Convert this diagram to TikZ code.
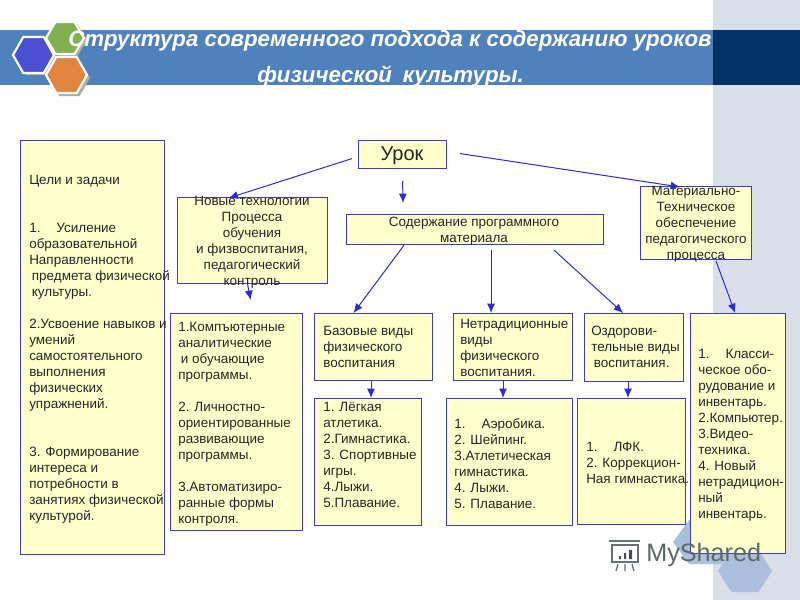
\documentclass[tikz,border=0pt]{standalone}
\usepackage{fontspec}
\setmainfont{Liberation Sans}
\usetikzlibrary{arrows.meta,calc}
\definecolor{bandblue}{HTML}{4F81BD}
\definecolor{banddark}{HTML}{003366}
\definecolor{sidepanel}{HTML}{D9DEE8}
\definecolor{boxfill}{HTML}{FFFFCC}
\definecolor{boxline}{HTML}{3B3BC8}
\definecolor{arrowc}{HTML}{2A2AE0}
\definecolor{hexpale}{HTML}{A9BFDC}
\definecolor{logoc}{HTML}{3F4F50}
\definecolor{hexblue}{HTML}{4A50D0}
\definecolor{hexgreen}{HTML}{7FB24F}
\definecolor{hexorange}{HTML}{E0843E}
\definecolor{hexshadow}{HTML}{A8B0A8}
\tikzset{
  x=0.75pt,y=-0.75pt,
  boxn/.style={draw=boxline,fill=boxfill,line width=0.85pt,inner sep=0pt,anchor=north west},
  txt/.style={inner sep=0pt,anchor=north west,align=left,font=\fontsize{10.1}{12}\selectfont,text=black!85},
  txtc/.style={txt,anchor=north,align=center},
  arr/.style={draw=arrowc,line width=0.75pt,-{Latex[length=7pt,width=6pt]}},
  hexa/.style={draw=white,line width=1.6pt},
  titlet/.style={inner sep=0pt,text=white,font=\fontsize{16.7}{18}\selectfont\bfseries\itshape}
}
\newcommand{\hexpath}[4]{(#1,#3) -- ({#1+0.25*(#2-#1)},#4) -- ({#1+0.75*(#2-#1)},#4) -- (#2,#3) -- ({#1+0.75*(#2-#1)},{2*#3-#4}) -- ({#1+0.25*(#2-#1)},{2*#3-#4}) -- cycle}
\newcommand{\bxn}[5]{\node[boxn,minimum width={(#4-#2)*0.75pt},minimum height={(#5-#3)*0.75pt}] (#1) at (#2,#3) {};}
\begin{document}
\begin{tikzpicture}
\useasboundingbox (0,0) rectangle (800,600);
\fill[white] (0,0) rectangle (800,600);
% side panel and band
\fill[sidepanel] (713,0) rectangle (800,600);
\fill[bandblue] (0,30) rectangle (713,85);
\fill[banddark] (713,30) rectangle (800,85);
% pale hexagons
\fill[hexpale] \hexpath{673}{737}{542}{520};
\fill[hexpale] \hexpath{718}{772}{571}{550};
% logo hexagons
\fill[hexshadow] \hexpath{49}{87}{40}{24};
\fill[hexshadow] \hexpath{49}{90}{78}{60};
\fill[hexshadow] \hexpath{16}{57}{57}{39};
\filldraw[hexa,fill=hexgreen] \hexpath{46}{84}{38}{22};
\filldraw[hexa,fill=hexorange] \hexpath{46}{87}{75}{57};
\filldraw[hexa,fill=hexblue] \hexpath{13}{54}{55}{37};
% title
\node[titlet,anchor=west] (title1) at (68,40.5) {Структура современного подхода к содержанию уроков};
\node[titlet,anchor=west] (title2) at (257,76.5) {физической\hspace{3.5pt} культуры.};
% watermark
\draw[logoc!80,line width=1pt] (612,545) rectangle (638,562);
\draw[logoc!80,line width=1.2pt] (609,541) -- (640,541);
\fill[logoc] (619,556) rectangle (621,559) (624,553) rectangle (626,559) (629,550) rectangle (632,559);
\draw[logoc!80,line width=1pt] (618,564) -- (616,571) (625,564) -- (625,571) (632,564) -- (634,571);
% boxes
\bxn{cel}{20}{140}{164}{554}
\bxn{urok}{358}{140}{446}{168}
\bxn{nov}{177}{197}{327}{283}
\bxn{sod}{346}{214}{603}{244}
\bxn{mat}{640}{186}{751}{259}
\bxn{comp}{170}{313}{302}{530}
\bxn{baz}{314}{313}{432}{380}
\bxn{netr}{453}{313}{572}{380}
\bxn{ozd}{584}{313}{683}{381}
\bxn{leg}{314}{398}{421}{525}
\bxn{aer}{446}{398}{572}{525}
\bxn{lfk}{577}{398}{685}{524}
\bxn{kla}{690}{313}{785}{553}
% watermark text over the boxes
\node[inner sep=0pt,anchor=west,text=logoc!85,font=\fontsize{18.9}{24}\selectfont] (wm) at (646,555) {MyShared};
% texts
\node[txt] (celt) at (29,175) {Цели и задачи\\~\\~\\1.\hspace{12pt}Усиление\\образовательной\\Направленности\\\hspace{2pt}предмета физической\\\hspace{2pt}культуры.\\~\\2.Усвоение навыков и\\умений\\самостоятельного\\выполнения\\физических\\упражнений.\\~\\~\\3. Формирование\\интереса и\\потребности в\\занятиях физической\\культурой.};
\node[inner sep=0pt,font=\fontsize{15}{15}\selectfont,text=black!85] (urokt) at (402,156) {Урок};
\node[txtc] (novt) at (252,196) {Новые технологии\\Процесса\\обучения\\и физвоспитания,\\педагогический\\контроль};
\node[txtc] (sodt) at (474,217) {Содержание программного\\материала};
\node[txtc] (matt) at (696,186) {Материально-\\Техническое\\обеспечение\\педагогического\\процесса};
\node[txt] (compt) at (178,322) {1.Компъютерные\\аналитические\\\hspace{2pt}и обучающие\\программы.\\~\\2. Личностно-\\ориентированные\\развивающие\\программы.\\~\\3.Автоматизиро-\\ранные формы\\контроля.};
\node[txt] (bazt) at (323,326) {Базовые виды\\физического\\воспитания};
\node[txt] (netrt) at (460,319) {Нетрадиционные\\виды\\физического\\воспитания.};
\node[txt] (ozdt) at (591,326) {Оздорови-\\тельные виды\\\hspace{2pt}воспитания.};
\node[txt] (legt) at (323,402) {1. Лёгкая\\атлетика.\\2.Гимнастика.\\3. Спортивные\\игры.\\4.Лыжи.\\5.Плавание.};
\node[txt] (aert) at (454,418) {1.\hspace{12pt}Аэробика.\\2. Шейпинг.\\3.Атлетическая\\гимнастика.\\4. Лыжи.\\5. Плавание.};
\node[txt] (lfkt) at (586,442) {1.\hspace{12pt}ЛФК.\\2. Коррекцион-\\Ная гимнастика.};
\node[txt] (klat) at (698,349) {1.\hspace{12pt}Класси-\\ческое обо-\\рудование и\\инвентарь.\\2.Компьютер.\\3.Видео-\\техника.\\4. Новый\\нетрадицион-\\ный\\инвентарь.};
% connectors
\draw[arr] ($(urok.west)+(-6,4)$) -- ($(nov.north)+(-24,1)$);
\draw[arr] ($(urok.south)+(0,12)$) -- ($(sod.north)+(-72,-11)$);
\draw[arr] ($(urok.east)+(13,-1)$) -- ($(mat.north)+(-16,1)$);
\draw[arr] ($(sod.south)+(-71,0)$) -- ($(baz.north)+(-20,0)$);
\draw[arr] ($(sod.south)+(16,5)$) -- ($(netr.north)+(-22,0)$);
\draw[arr] ($(sod.south)+(79,5)$) -- ($(ozd.north)+(-11,0)$);
\draw[arr] ($(nov.south)+(-5,0)$) -- ($(comp.north)+(14,-13)$);
\draw[arr] (baz.south -| 371,0) -- (leg.north -| 371,0);
\draw[arr] (netr.south -| 503,0) -- (aer.north -| 503,0);
\draw[arr] (ozd.south -| 628,0) -- (lfk.north -| 628,0);
\draw[arr] ($(mat.south)+(20,1)$) -- ($(kla.north)+(-3,0)$);
\end{tikzpicture}
\end{document}
